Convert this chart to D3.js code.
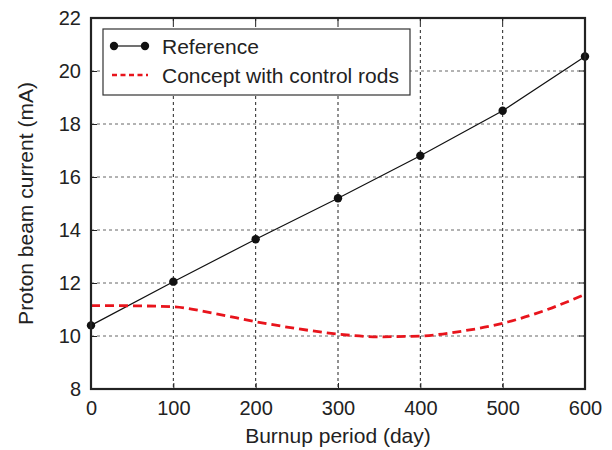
<!DOCTYPE html>
<html>
<head>
<meta charset="utf-8">
<script src="https://cdn.jsdelivr.net/npm/d3@7"></script>
<style>
  body { margin: 0; background: #fff; }
  text { font-family: "Liberation Sans", Arial, sans-serif; fill: #222; }
</style>
</head>
<body>
<svg id="chart" width="612" height="450"></svg>
<script>
// burnup days and proton beam current (mA)
const refDays = [0, 100, 200, 300, 400, 500, 600]
const refCurrent = [10.4, 12.05, 13.65, 15.2, 16.8, 18.5, 20.55]
const rodDays = [0, 50, 100, 150, 200, 250, 300, 350, 400, 450, 500, 550, 600]
const rodCurrent = [11.15, 11.14, 11.1, 10.85, 10.54, 10.28, 10.07, 9.97, 10.0, 10.18, 10.48, 10.95, 11.57]
const xTicks = [0, 100, 200, 300, 400, 500, 600]
const yTicks = [8, 10, 12, 14, 16, 18, 20, 22]

const margin = { left: 91, right: 27, top: 18, bottom: 61 }
const width = 612 - margin.left - margin.right
const height = 450 - margin.top - margin.bottom

const svg = d3.select('#chart')
const g = svg.append('g').attr('transform', `translate(${margin.left},${margin.top})`)

const x = d3.scaleLinear().domain([0, 600]).range([0, width])
const y = d3.scaleLinear().domain([8, 22]).range([height, 0])

// grid
g.append('g').selectAll('line').data(xTicks.slice(1, -1)).enter().append('line')
  .attr('x1', d => x(d)).attr('x2', d => x(d)).attr('y1', 0).attr('y2', height)
  .attr('stroke', '#222').attr('stroke-width', 1).attr('stroke-dasharray', '3,3')
g.append('g').selectAll('line').data(yTicks.slice(1, -1)).enter().append('line')
  .attr('x1', 0).attr('x2', width).attr('y1', d => y(d)).attr('y2', d => y(d))
  .attr('stroke', '#666').attr('stroke-width', 1).attr('stroke-dasharray', '3,3')

// axes with inward ticks
const xAxis = g.append('g').attr('transform', `translate(0,${height})`)
  .call(d3.axisBottom(x).tickValues(xTicks).tickSizeInner(-6).tickSizeOuter(0).tickPadding(12))
const yAxis = g.append('g')
  .call(d3.axisLeft(y).tickValues(yTicks).tickSizeInner(-6).tickSizeOuter(0).tickPadding(10))
xAxis.select('.domain').remove()
yAxis.select('.domain').remove()
;[xAxis, yAxis].forEach(a => {
  a.selectAll('text').style('font-size', '20px').attr('fill', '#222')
  a.selectAll('line').attr('stroke', '#222')
})
xAxis.selectAll('text').attr('dy', '0.71em')

// right/top ticks
g.append('g').selectAll('line').data(yTicks).enter().append('line')
  .attr('x1', width).attr('x2', width - 6).attr('y1', d => y(d)).attr('y2', d => y(d))
  .attr('stroke', '#222')
g.append('g').selectAll('line').data(xTicks).enter().append('line')
  .attr('x1', d => x(d)).attr('x2', d => x(d)).attr('y1', 0).attr('y2', 6)
  .attr('stroke', '#222')

// series
const refLine = d3.line().x((d, i) => x(refDays[i])).y(d => y(d))
g.append('path').datum(refCurrent).attr('d', refLine)
  .attr('fill', 'none').attr('stroke', '#111').attr('stroke-width', 1.2)
g.append('g').selectAll('circle').data(refCurrent).enter().append('circle')
  .attr('cx', (d, i) => x(refDays[i])).attr('cy', d => y(d)).attr('r', 4.2)
  .attr('fill', '#111')

const rodLine = d3.line().x((d, i) => x(rodDays[i])).y(d => y(d)).curve(d3.curveMonotoneX)
g.append('path').datum(rodCurrent).attr('d', rodLine)
  .attr('fill', 'none').attr('stroke', '#e8141c').attr('stroke-width', 2.8)
  .attr('stroke-dasharray', '9,5')

// frame
g.append('rect').attr('width', width).attr('height', height)
  .attr('fill', 'none').attr('stroke', '#222').attr('stroke-width', 2.2)

// legend
const leg = g.append('g').attr('transform', 'translate(12,11)')
leg.append('rect').attr('width', 307).attr('height', 66)
  .attr('fill', '#fff').attr('stroke', '#333').attr('stroke-width', 1.2)
leg.append('line').attr('x1', 11).attr('x2', 42).attr('y1', 17).attr('y2', 17)
  .attr('stroke', '#111').attr('stroke-width', 1.2)
leg.selectAll('circle').data([11, 42]).enter().append('circle')
  .attr('cx', d => d).attr('cy', 17).attr('r', 4.2).attr('fill', '#111')
leg.append('line').attr('x1', 9).attr('x2', 45).attr('y1', 46).attr('y2', 46)
  .attr('stroke', '#e8141c').attr('stroke-width', 2.6).attr('stroke-dasharray', '5,3.5')
leg.append('text').attr('x', 59).attr('y', 25).style('font-size', '21px').text('Reference')
leg.append('text').attr('x', 59).attr('y', 54).style('font-size', '21px').text('Concept with control rods')

// axis titles
svg.append('text').attr('x', margin.left + width / 2).attr('y', 443)
  .attr('text-anchor', 'middle').style('font-size', '21px').text('Burnup period (day)')
svg.append('text').attr('transform', `translate(33,${margin.top + height / 2}) rotate(-90)`)
  .attr('text-anchor', 'middle').style('font-size', '21px').text('Proton beam current (mA)')
</script>
</body>
</html>
